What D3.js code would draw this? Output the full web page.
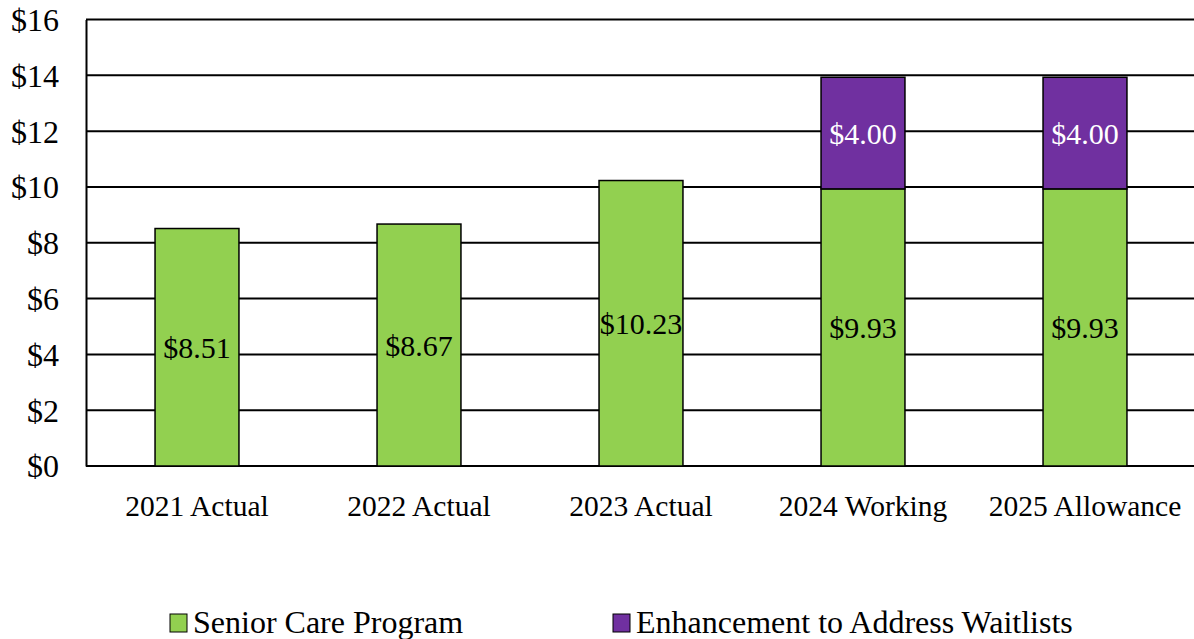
<!DOCTYPE html>
<html>
<head>
<meta charset="utf-8">
<script src="https://cdn.jsdelivr.net/npm/d3@7"></script>
<style>
  body { margin: 0; background: #fff; }
</style>
</head>
<body>
<div id="wrapper"></div>
<script>
// Data
const categories = ["2021 Actual", "2022 Actual", "2023 Actual", "2024 Working", "2025 Allowance"];
const seniorCare = [8.51, 8.67, 10.23, 9.93, 9.93];
const enhancement = [0, 0, 0, 4.00, 4.00];
const seriesNames = ["Senior Care Program", "Enhancement to Address Waitlists"];
const yTicks = [0, 2, 4, 6, 8, 10, 12, 14, 16];

const colors = ["#92D050", "#7030A0"];
const font = "'Liberation Serif'";

const drawChart = () => {
    const width = 1194;
    const height = 639;
    const margin = { top: 19.5, right: -2, bottom: 173, left: 86 };
    const boundedWidth = width - margin.left - margin.right;
    const boundedHeight = height - margin.top - margin.bottom;

    const svg = d3.select("#wrapper")
        .append("svg")
        .attr("width", width)
        .attr("height", height)
        .attr("font-family", font);

    const bounds = svg.append("g")
        .attr("transform", `translate(${margin.left}, ${margin.top})`);

    // Scales
    const xScale = d3.scaleBand()
        .domain(categories)
        .range([0, boundedWidth])
        .paddingInner(0.622)
        .paddingOuter(0.311);
    const yScale = d3.scaleLinear()
        .domain([0, 16])
        .range([boundedHeight, 0]);

    // Gridlines
    bounds.append("g")
        .selectAll("line")
        .data(yTicks)
        .join("line")
        .attr("x1", 0)
        .attr("x2", boundedWidth)
        .attr("y1", d => yScale(d))
        .attr("y2", d => yScale(d))
        .attr("stroke", "#000")
        .attr("stroke-width", 2);

    // Y axis
    const yAxis = bounds.append("g")
        .call(d3.axisLeft(yScale).tickValues(yTicks).tickSize(0).tickPadding(27).tickFormat(d => "$" + d));
    yAxis.attr("font-family", font).attr("font-size", 32);
    yAxis.select(".domain").attr("stroke", "#000").attr("stroke-width", 2);
    yAxis.selectAll("text")
        .attr("font-family", font)
        .attr("fill", "#000")
        .attr("dy", "0.34em");

    // Stacked data
    const stacked = categories.map((c, i) => ({
        cat: c,
        segs: [
            { y0: 0, y1: seniorCare[i], v: seniorCare[i], s: 0 },
            { y0: seniorCare[i], y1: seniorCare[i] + enhancement[i], v: enhancement[i], s: 1 }
        ].filter(d => d.v > 0)
    }));

    const groups = bounds.selectAll(".bar")
        .data(stacked)
        .join("g")
        .attr("class", "bar");

    groups.selectAll("rect")
        .data(d => d.segs.map(s => ({ ...s, cat: d.cat })))
        .join("rect")
        .attr("x", d => xScale(d.cat))
        .attr("width", xScale.bandwidth())
        .attr("y", d => yScale(d.y1))
        .attr("height", d => yScale(d.y0) - yScale(d.y1))
        .attr("fill", d => colors[d.s])
        .attr("stroke", "#000")
        .attr("stroke-width", 1.5);

    groups.selectAll("text")
        .data(d => d.segs.map(s => ({ ...s, cat: d.cat })))
        .join("text")
        .attr("x", d => xScale(d.cat) + xScale.bandwidth() / 2)
        .attr("y", d => yScale((d.y0 + d.y1) / 2))
        .attr("dy", "0.36em")
        .attr("text-anchor", "middle")
        .attr("font-family", font)
        .attr("font-size", 30)
        .attr("fill", d => d.s === 1 ? "#fff" : "#000")
        .text(d => "$" + d.v.toFixed(2));

    // X axis labels
    bounds.append("g")
        .selectAll("text")
        .data(categories)
        .join("text")
        .attr("x", d => xScale(d) + xScale.bandwidth() / 2)
        .attr("y", boundedHeight + 50)
        .attr("text-anchor", "middle")
        .attr("font-family", font)
        .attr("font-size", 29.5)
        .attr("fill", "#000")
        .text(d => d);

    // Legend
    const legendX = [170, 613];
    const legend = svg.append("g")
        .selectAll("g")
        .data(seriesNames)
        .join("g")
        .attr("transform", (d, i) => `translate(${legendX[i]}, 614)`);
    legend.append("rect")
        .attr("width", 17)
        .attr("height", 18)
        .attr("fill", (d, i) => colors[i])
        .attr("stroke", "#000")
        .attr("stroke-width", 1);
    legend.append("text")
        .attr("x", 23)
        .attr("y", 19)
        .attr("font-family", font)
        .attr("font-size", 32)
        .attr("fill", "#000")
        .text(d => d);
};
drawChart();
</script>
</body>
</html>
